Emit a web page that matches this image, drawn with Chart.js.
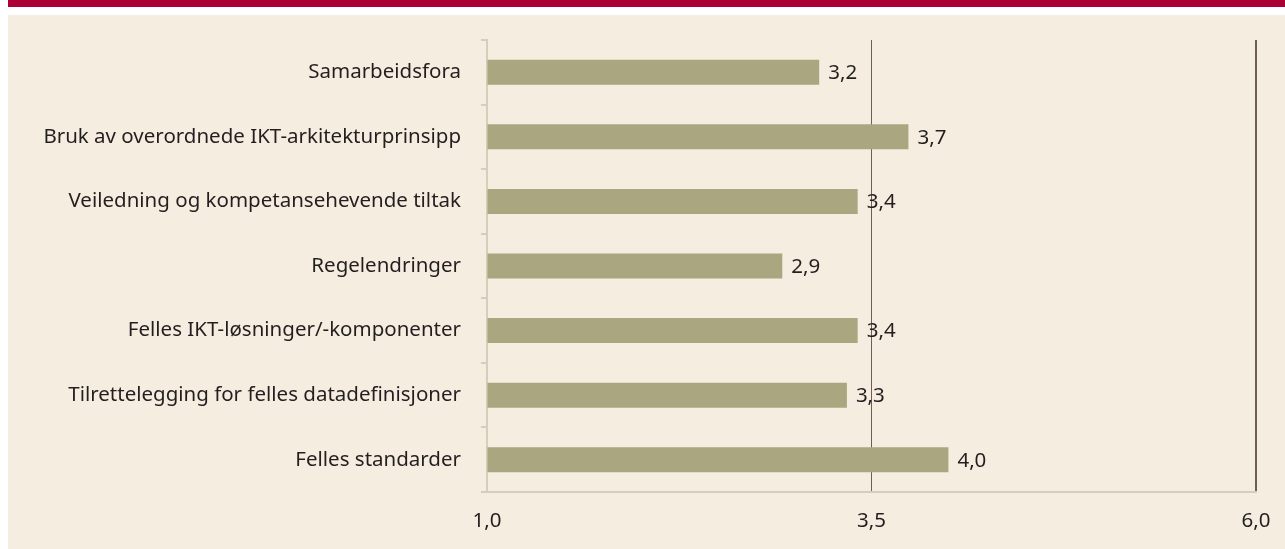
<!DOCTYPE html>
<html>
<head>
<meta charset="utf-8">
<script src="https://cdn.jsdelivr.net/npm/chart.js@4"></script>
<style>
    body { margin: 0; background: #ffffff; width: 1285px; height: 549px; overflow: hidden; position: relative; }
    #band { position: absolute; left: 8px; top: 0; width: 1277px; height: 7px; background: #ad0034; }
    #panel { position: absolute; left: 8px; top: 15px; width: 1277px; height: 534px; background: #f5ede0; }
</style>
</head>
<body>
<div id="band"></div>
<div id="panel"><canvas id="mycanvas" width="1277" height="534"></canvas></div>
<script>
var categories = [
    'Samarbeidsfora',
    'Bruk av overordnede IKT-arkitekturprinsipp',
    'Veiledning og kompetansehevende tiltak',
    'Regelendringer',
    'Felles IKT-løsninger/-komponenter',
    'Tilrettelegging for felles datadefinisjoner',
    'Felles standarder'
];
var scores = [3.16, 3.74, 3.41, 2.92, 3.41, 3.34, 4.0];
var xTicks = [1.0, 3.5, 6.0];

function fmt(v) {
    return v.toFixed(1).replace('.', ',');
}

// value labels at the end of each bar
var valueLabels = {
    id: 'valueLabels',
    afterDatasetsDraw: function (chart) {
        var ctx = chart.ctx;
        var meta = chart.getDatasetMeta(0);
        ctx.save();
        ctx.font = '20.5px "Noto Sans"';
        ctx.fillStyle = '#231f20';
        ctx.textAlign = 'left';
        ctx.textBaseline = 'middle';
        meta.data.forEach(function (bar, i) {
            ctx.fillText(fmt(scores[i]), bar.x + 9, bar.y + 1);
        });
        ctx.restore();
    }
};

var ctx = document.getElementById('mycanvas');
var myBarChart = new Chart(ctx, {
    type: 'bar',
    data: {
        labels: categories,
        datasets: [{
            data: scores,
            backgroundColor: '#aaa680',
            borderWidth: 0,
            barPercentage: 0.387,
            categoryPercentage: 1.0,
            base: 1
        }]
    },
    options: {
        indexAxis: 'y',
        responsive: false,
        animation: false,
        layout: { padding: { top: 25, right: 29, bottom: 0, left: 0 } },
        plugins: { legend: { display: false }, tooltip: { enabled: false } },
        scales: {
            x: {
                min: 1,
                max: 6,
                afterBuildTicks: function (scale) {
                    scale.ticks = xTicks.map(function (v) { return { value: v }; });
                },
                afterFit: function (scale) {
                    scale.height = 57;
                    scale.paddingLeft = 0;
                    scale.paddingRight = 0;
                },
                grid: {
                    drawTicks: false,
                    color: function (c) {
                        return c.tick && c.tick.value > 1 ? '#6e5e54' : 'rgba(0,0,0,0)';
                    },
                    lineWidth: function (c) {
                        return c.tick && c.tick.value === 6 ? 2 : 1;
                    }
                },
                border: { display: true, color: '#d6ceba', width: 2 },
                ticks: {
                    padding: 17,
                    color: '#231f20',
                    font: { family: 'Noto Sans', size: 20.5 },
                    callback: function (v) { return fmt(v); }
                }
            },
            y: {
                afterFit: function (scale) {
                    scale.width = 479;
                    scale.paddingTop = 0;
                    scale.paddingBottom = 0;
                },
                grid: {
                    drawOnChartArea: false,
                    drawTicks: true,
                    tickLength: 6,
                    color: '#d6ceba',
                    lineWidth: 2
                },
                border: { display: true, color: '#d6ceba', width: 2 },
                ticks: {
                    padding: 20,
                    color: '#231f20',
                    font: { family: 'Noto Sans', size: 20.5 }
                }
            }
        }
    },
    plugins: [valueLabels]
});
</script>
</body>
</html>
